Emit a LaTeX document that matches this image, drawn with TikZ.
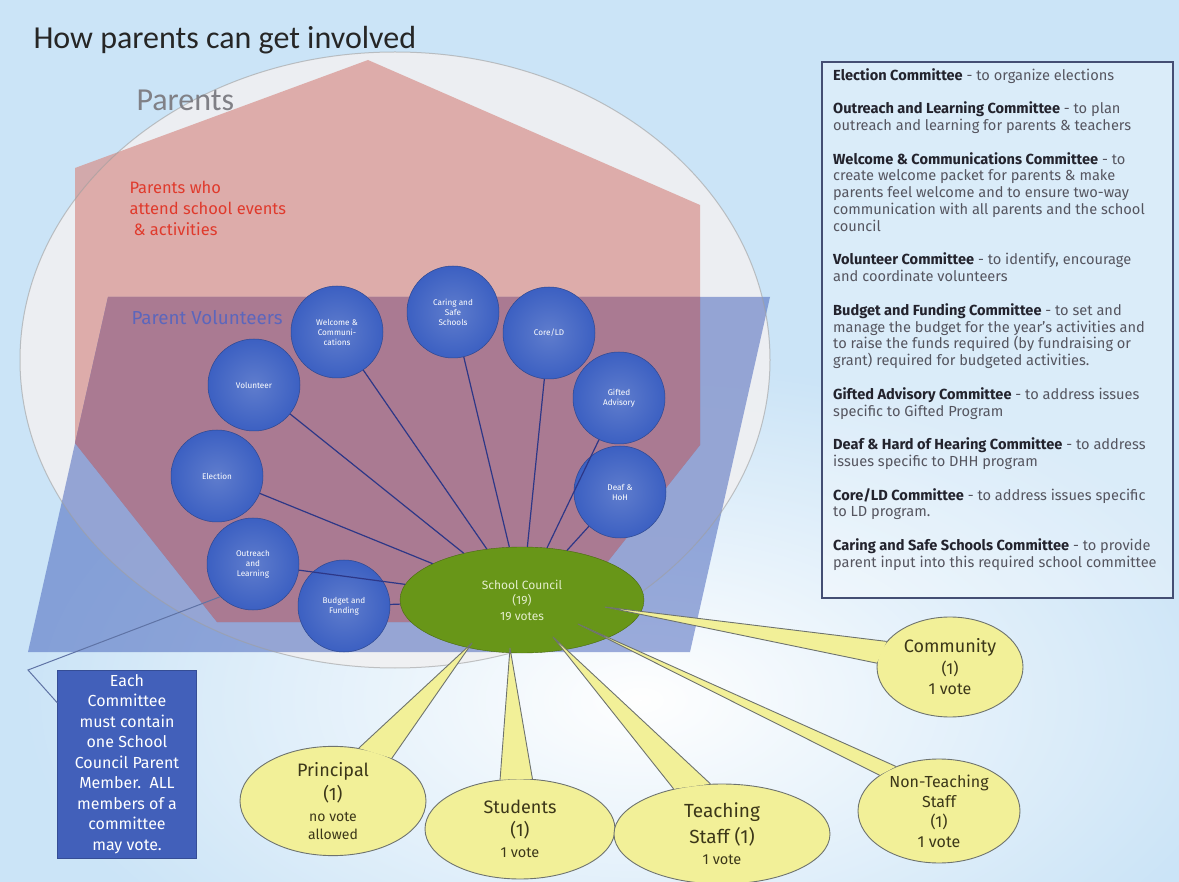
\documentclass[tikz,border=0pt]{standalone}
\usepackage{fontspec}
\setmainfont{Fira Sans}
\newfontfamily\titlefont{Carlito}
\usetikzlibrary{shapes.geometric,fadings}
\tikzfading[name=glow,inner color=transparent!0,outer color=transparent!100]
\definecolor{bgblue}{RGB}{203,228,247}
\definecolor{parentsfill}{RGB}{240,240,242}
\definecolor{pinkfill}{RGB}{214,142,136}
\definecolor{bluefill}{RGB}{62,92,184}
\definecolor{mauve}{RGB}{170,122,146}
\definecolor{parentsgray}{RGB}{128,128,134}
\definecolor{redtxt}{RGB}{224,58,44}
\definecolor{voltxt}{RGB}{92,102,188}
\definecolor{combl}{RGB}{60,96,194}
\definecolor{spokeblue}{RGB}{45,55,135}
\definecolor{council}{RGB}{104,150,24}
\definecolor{sctxt}{RGB}{228,238,205}
\definecolor{voteyel}{RGB}{242,240,152}
\definecolor{wedgegray}{RGB}{110,115,110}
\definecolor{votetxt}{RGB}{60,55,25}
\definecolor{notebl}{RGB}{66,96,186}
\definecolor{leadline}{RGB}{95,115,165}
\definecolor{boxline}{RGB}{68,78,115}
\definecolor{boxbold}{RGB}{35,35,45}
\definecolor{boxtxt}{RGB}{85,85,95}
\newcommand\vbig[2]{{\fontsize{#1}{#1}\selectfont #2}}
\begin{document}
\begin{tikzpicture}[x=1pt,y=-1pt,
  committee/.style={circle,minimum size=92pt,inner sep=0pt,draw=combl!75!black,line width=.5pt,
    inner color=combl!82!white,outer color=combl,text=white,align=center,font=\fontsize{8.2}{10}\selectfont},
  spoke/.style={draw=spokeblue,line width=1.2pt},
  voter/.style={ellipse,fill=voteyel,draw=wedgegray,line width=.9pt,inner sep=0pt,align=center,text=votetxt},
  wedge/.style={draw=wedgegray,line width=.9pt,line join=round},
  leader/.style={draw=leadline,line width=1pt}]
\useasboundingbox (0,0) rectangle (1179,882);
% background
\fill[bgblue] (0,0) rectangle (1179,882);
\fill[white,path fading=glow] (640,700) ellipse [x radius=620, y radius=340];
% parents, events, volunteers
\fill[parentsfill,opacity=.9] (395,360) ellipse [x radius=375, y radius=308];
\coordinate (h1) at (368,60);  \coordinate (h2) at (700,205); \coordinate (h3) at (700,445);
\coordinate (h4) at (560,622); \coordinate (h5) at (217,622); \coordinate (h6) at (75,443);
\coordinate (h7) at (75,168);
\coordinate (p1) at (108,297); \coordinate (p2) at (770,297); \coordinate (p3) at (690,652);
\coordinate (p4) at (28,652);
\fill[pinkfill,opacity=.68] (h1)--(h2)--(h3)--(h4)--(h5)--(h6)--(h7)--cycle;
\fill[bluefill,opacity=.5] (p1)--(p2)--(p3)--(p4)--cycle;
\begin{scope}
  \clip (h1)--(h2)--(h3)--(h4)--(h5)--(h6)--(h7)--cycle;
  \fill[mauve] (p1)--(p2)--(p3)--(p4)--cycle;
\end{scope}
\draw[gray!75,line width=1pt,opacity=.6] (395,360) ellipse [x radius=375, y radius=308];

\node[anchor=west,text=black!85,font=\titlefont\fontsize{32}{34}\selectfont] (title) at (30,40) {How parents can get involved};
\node[anchor=west,text=parentsgray,font=\titlefont\fontsize{32}{34}\selectfont] (parents) at (133,100) {Parents};
\node[anchor=north west,align=left,text=redtxt,font=\fontsize{16.5}{21}\selectfont] (events) at (126,178)
  {Parents who\\attend school events\\\hspace{4pt}\& activities};
\node[anchor=west,text=voltxt,font=\fontsize{18.8}{22}\selectfont] (volunteers) at (128,318) {Parent Volunteers};

% committees
\node[committee] (wel) at (337,332) {Welcome \&\\Communi-\\cations};
\node[committee] (car) at (453,312) {Caring and\\Safe\\Schools};
\node[committee] (core) at (549,333) {Core/LD};
\node[committee] (gif) at (619,398) {Gifted\\Advisory};
\node[committee] (deaf) at (620,492) {Deaf \&\\HoH};
\node[committee] (vol) at (254,385) {Volunteer};
\node[committee] (ele) at (217,476) {Election};
\node[committee] (outr) at (253,564) {Outreach\\and\\Learning};
\node[committee] (bud) at (344,606) {Budget and\\Funding};

\node[ellipse,minimum width=244pt,minimum height=106pt,fill=council,draw=council!70!black,text=sctxt,
  align=center,font=\fontsize{12}{15.5}\selectfont] (sc) at (522,600) {School Council\\(19)\\19 votes};

\foreach \c in {wel,car,core,gif,deaf,vol,ele,outr,bud}
  \draw[spoke] (\c) -- (sc);

% voters
\node[voter,minimum width=186pt,minimum height=98pt,font=\fontsize{14}{18}\selectfont] (pri) at (333,801)
  {\vbig{18}{Principal}\\[4pt]\vbig{18}{(1)}\\[3pt]no vote\\allowed};
\node[voter,minimum width=190pt,minimum height=100pt,font=\fontsize{14.5}{19}\selectfont] (stu) at (520,829)
  {\vbig{18}{Students}\\[4pt]\vbig{18}{(1)}\\[2pt]1 vote};
\node[voter,minimum width=216pt,minimum height=100pt,font=\fontsize{14.5}{19}\selectfont] (tea) at (722,834)
  {\vbig{19}{Teaching}\\[5pt]\vbig{19}{Staff (1)}\\[2pt]1 vote};
\node[voter,minimum width=162pt,minimum height=104pt,font=\fontsize{16}{20}\selectfont] (non) at (939,811)
  {Non-Teaching\\Staff\\(1)\\1 vote};
\node[voter,minimum width=146pt,minimum height=100pt,font=\fontsize{16}{20}\selectfont] (com) at (950,667)
  {\vbig{18}{Community}\\[2pt](1)\\1 vote};

\coordinate (tippri) at (472,643);
\coordinate (tipstu) at (510,648);
\coordinate (tiptea) at (553,637);
\coordinate (tipnon) at (578,624);
\coordinate (tipcom) at (605,607);
\foreach \v/\a/\b in {pri/64/36,stu/112/76,tea/137/103,non/149/134,com/158/177}{
  \fill[voteyel] (\v.\a) -- (tip\v) -- (\v.\b) -- cycle;
  \draw[wedge] (\v.\a) -- (tip\v) -- (\v.\b);
}

% note
\node[fill=notebl,draw=notebl!80!black,minimum width=139pt,minimum height=188pt,inner sep=0pt,
  text=white,align=center,font=\fontsize{16}{20.5}\selectfont] (note) at (127,764)
  {Each\\Committee\\must contain\\one School\\Council Parent\\Member.\ \ ALL\\members of a\\committee\\may vote.};
\coordinate (bend) at (28,670);
\draw[leader] ([yshift=-33pt]note.north west) -- (bend) -- (outr.225);

% committee list
\fill[white,opacity=.3] (822,62) rectangle (1173,598);
\draw[boxline,line width=1.3pt] (822,62) rectangle (1173,598);
\node[anchor=north west,align=left,inner sep=0pt,text=boxtxt,font=\fontsize{14.6}{16.8}\selectfont] (list) at (833,68)
 {\textcolor{boxbold}{\textbf{Election Committee}} - to organize elections\\[16.8pt]
  \textcolor{boxbold}{\textbf{Outreach and Learning Committee}} - to plan\\
  outreach and learning for parents \& teachers\\[16.8pt]
  \textcolor{boxbold}{\textbf{Welcome \& Communications Committee}} - to\\
  create welcome packet for parents \& make\\
  parents feel welcome and to ensure two-way\\
  communication with all parents and the school\\
  council\\[16.8pt]
  \textcolor{boxbold}{\textbf{Volunteer Committee}} - to identify, encourage\\
  and coordinate volunteers\\[16.8pt]
  \textcolor{boxbold}{\textbf{Budget and Funding Committee}} - to set and\\
  manage the budget for the year's activities and\\
  to raise the funds required (by fundraising or\\
  grant) required for budgeted activities.\\[16.8pt]
  \textcolor{boxbold}{\textbf{Gifted Advisory Committee}} - to address issues\\
  specific to Gifted Program\\[16.8pt]
  \textcolor{boxbold}{\textbf{Deaf \& Hard of Hearing Committee}} - to address\\
  issues specific to DHH program\\[16.8pt]
  \textcolor{boxbold}{\textbf{Core/LD Committee}} - to address issues specific\\
  to LD program.\\[16.8pt]
  \textcolor{boxbold}{\textbf{Caring and Safe Schools Committee}} - to provide\\
  parent input into this required school committee};
\end{tikzpicture}
\end{document}
